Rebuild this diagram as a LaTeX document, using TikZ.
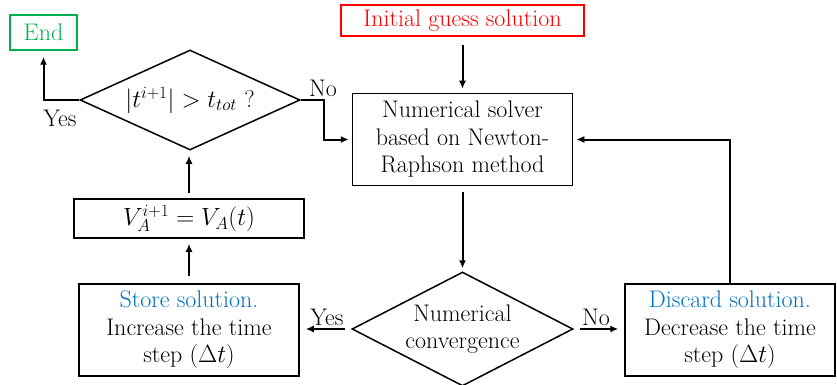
\documentclass[tikz,border=0pt]{standalone}
\usetikzlibrary{shapes.geometric,arrows.meta}
\definecolor{endgreen}{RGB}{0,176,80}
\definecolor{initred}{RGB}{255,0,0}
\definecolor{noteblue}{RGB}{0,112,192}
\begin{document}
\begin{tikzpicture}[x=1pt,y=-1pt,
  txt/.style={font=\fontsize{24}{27.5}\selectfont},
  box/.style={txt, draw, line width=1.5pt, align=center, inner sep=0pt},
  dia/.style={txt, draw, line width=1.5pt, align=center, shape=diamond, inner sep=0pt},
  arr/.style={line width=2pt, -{Latex[length=8pt,width=7pt]}},
  lbl/.style={txt, inner sep=0pt}
]
\useasboundingbox (0,0) rectangle (837,385);

\node[box, draw=endgreen, text=endgreen, minimum width=67pt, minimum height=35pt] (end) at (43.5,32.5) {End};
\node[box, draw=initred, text=initred, minimum width=243pt, minimum height=31pt] (init) at (462.5,20.5) {Initial guess solution};
\node[box, minimum width=220pt, minimum height=92pt] (solver) at (462.5,139.5) {Numerical solver\\based on Newton-\\Raphson method};
\node[dia, aspect=2.2, minimum width=220pt, minimum height=100pt] (check) at (190,100) {$|t^{i+1}|>t_{tot}$ ?};
\node[box, minimum width=230pt, minimum height=39pt] (upd) at (189,218.5) {$V_A^{i+1}=V_A(t)$};
\node[box, minimum width=220pt, minimum height=92pt] (store) at (189,330) {\textcolor{noteblue}{Store solution.}\\Increase the time\\step ($\Delta t$)};
\node[dia, aspect=1.94, minimum width=221pt, minimum height=114pt] (conv) at (462.5,329) {Numerical\\convergence};
\node[box, minimum width=210pt, minimum height=92pt] (discard) at (730,330) {\textcolor{noteblue}{Discard solution.}\\Decrease the time\\step ($\Delta t$)};

\draw[arr, shorten >=6pt] (check.west) -| (end.south);
\node[lbl] (yes1) at (60,118) {Yes};
\draw[arr, shorten >=3pt] (check.east) -- ++(23,0) |- (solver.west);
\node[lbl] (no1) at (323,88) {No};
\draw[arr, shorten <=8pt, shorten >=4pt] (init.south) -- (solver.north);
\draw[arr, shorten >=3pt] (discard.north) |- (solver.east);
\draw[arr, shorten <=6pt, shorten >=3pt] (solver.south) -- (conv.north);
\draw[arr, shorten <=6pt, shorten >=6pt] (conv.east) -- (conv.east -| discard.west);
\node[lbl] (no2) at (596,317) {No};
\draw[arr, shorten <=6pt, shorten >=6pt] (conv.west) -- (conv.west -| store.east);
\node[lbl] (yes2) at (327,317) {Yes};
\draw[arr, shorten <=7pt, shorten >=5pt] (store.north) -- (upd.south);
\draw[arr, shorten <=5pt, shorten >=5pt] (upd.north) -- (upd.north |- check.south);
\end{tikzpicture}
\end{document}
